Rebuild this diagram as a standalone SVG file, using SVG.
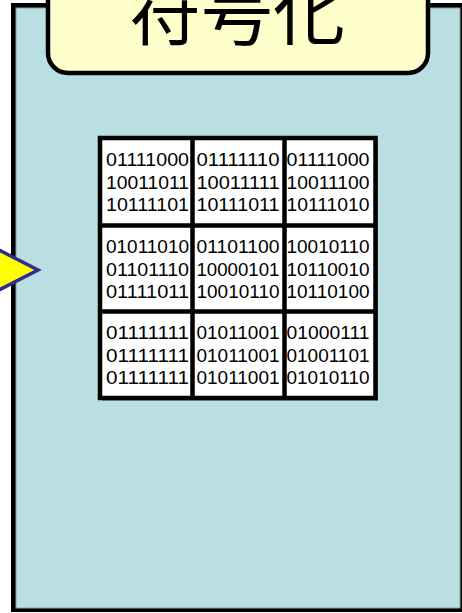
<svg xmlns="http://www.w3.org/2000/svg" width="462" height="613" viewBox="0 0 462 613">
<style>
.bin{font-family:"Liberation Sans",Arial,sans-serif;font-size:17.5px;fill:#000}
.grid{fill:none;stroke:#000;stroke-width:4.5}
</style>
<rect width="462" height="613" fill="#fff"/>
<g id="panel">
<rect x="11" y="3" width="451" height="609" fill="#000"/>
<rect x="16" y="8" width="444" height="600" fill="#BADFE2" stroke="#7FA7AA" stroke-width="1"/>
</g>
<g id="title">
<rect x="48" y="-30" width="380" height="103" rx="20" ry="20" fill="#FFFFCC" stroke="#000" stroke-width="4.5"/>
<text x="237" y="39" text-anchor="middle" font-family="'Noto Sans CJK JP','Noto Sans CJK SC',sans-serif" font-size="72" fill="#000">符号化</text>
</g>
<g id="connectors">
<polygon points="-40,230 38,270 -40,310" fill="#FFFF00" stroke="#2E2E8F" stroke-width="3.5" stroke-linejoin="miter"/>
</g>
<g id="table">
<rect x="102" y="140" width="276" height="261" fill="#555" opacity="0.5"/>
<rect x="100" y="138" width="275.5" height="260" fill="#fff"/>
<path class="grid" d="M100,138H375.5V398H100Z M192.5,138V398 M284.5,138V398 M100,225.5H375.5 M100,311.5H375.5"/>
<g class="bin">
<text x="106" y="166" textLength="83" lengthAdjust="spacingAndGlyphs">01111000</text><text x="106" y="188.5" textLength="83" lengthAdjust="spacingAndGlyphs">10011011</text><text x="106" y="211" textLength="83" lengthAdjust="spacingAndGlyphs">10111101</text>
<text x="196.5" y="166" textLength="83" lengthAdjust="spacingAndGlyphs">01111110</text><text x="196.5" y="188.5" textLength="83" lengthAdjust="spacingAndGlyphs">10011111</text><text x="196.5" y="211" textLength="83" lengthAdjust="spacingAndGlyphs">10111011</text>
<text x="286.5" y="166" textLength="83" lengthAdjust="spacingAndGlyphs">01111000</text><text x="286.5" y="188.5" textLength="83" lengthAdjust="spacingAndGlyphs">10011100</text><text x="286.5" y="211" textLength="83" lengthAdjust="spacingAndGlyphs">10111010</text>
<text x="106" y="253" textLength="83" lengthAdjust="spacingAndGlyphs">01011010</text><text x="106" y="275.5" textLength="83" lengthAdjust="spacingAndGlyphs">01101110</text><text x="106" y="298" textLength="83" lengthAdjust="spacingAndGlyphs">01111011</text>
<text x="196.5" y="253" textLength="83" lengthAdjust="spacingAndGlyphs">01101100</text><text x="196.5" y="275.5" textLength="83" lengthAdjust="spacingAndGlyphs">10000101</text><text x="196.5" y="298" textLength="83" lengthAdjust="spacingAndGlyphs">10010110</text>
<text x="286.5" y="253" textLength="83" lengthAdjust="spacingAndGlyphs">10010110</text><text x="286.5" y="275.5" textLength="83" lengthAdjust="spacingAndGlyphs">10110010</text><text x="286.5" y="298" textLength="83" lengthAdjust="spacingAndGlyphs">10110100</text>
<text x="106" y="339" textLength="83" lengthAdjust="spacingAndGlyphs">01111111</text><text x="106" y="361.5" textLength="83" lengthAdjust="spacingAndGlyphs">01111111</text><text x="106" y="384" textLength="83" lengthAdjust="spacingAndGlyphs">01111111</text>
<text x="196.5" y="339" textLength="83" lengthAdjust="spacingAndGlyphs">01011001</text><text x="196.5" y="361.5" textLength="83" lengthAdjust="spacingAndGlyphs">01011001</text><text x="196.5" y="384" textLength="83" lengthAdjust="spacingAndGlyphs">01011001</text>
<text x="286.5" y="339" textLength="83" lengthAdjust="spacingAndGlyphs">01000111</text><text x="286.5" y="361.5" textLength="83" lengthAdjust="spacingAndGlyphs">01001101</text><text x="286.5" y="384" textLength="83" lengthAdjust="spacingAndGlyphs">01010110</text>
</g>
</g>
</svg>
